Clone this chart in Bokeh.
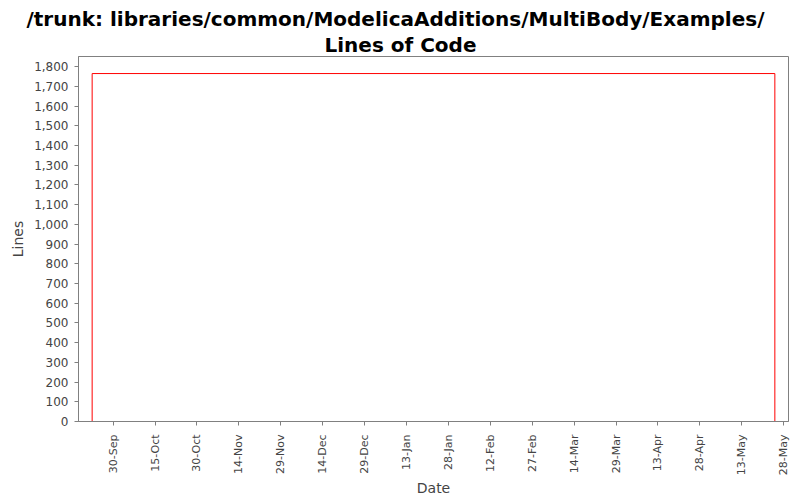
import math
from datetime import datetime
from bokeh.plotting import figure
from bokeh.models import (FixedTicker, DatetimeTickFormatter, NumeralTickFormatter,
                          Range1d, Title, ColumnDataSource)
from bokeh.embed import file_html
from bokeh.resources import INLINE

# ---- data ----
dates = ["2008-09-22 12:00", "2008-09-22 12:00", "2009-05-24 20:00", "2009-05-24 20:00"]
lines_of_code = [0, 1765, 1765, 0]
x_tick_dates = ["2008-09-30", "2008-10-15", "2008-10-30", "2008-11-14", "2008-11-29",
                "2008-12-14", "2008-12-29", "2009-01-13", "2009-01-28", "2009-02-12",
                "2009-02-27", "2009-03-14", "2009-03-29", "2009-04-13", "2009-04-28",
                "2009-05-13", "2009-05-28"]
y_ticks = list(range(0, 1801, 100))
title_line1 = "/trunk: libraries/common/ModelicaAdditions/MultiBody/Examples/"
title_line2 = "Lines of Code"

def parse(s):
    fmt = "%Y-%m-%d %H:%M" if " " in s else "%Y-%m-%d"
    return datetime.strptime(s, fmt)

xs = [parse(d) for d in dates]
ms = [(d - datetime(1970, 1, 1)).total_seconds() * 1000 for d in xs]
tick_ms = [(parse(d) - datetime(1970, 1, 1)).total_seconds() * 1000 for d in x_tick_dates]

span = max(ms) - min(ms)
x_start = min(ms) - 0.02 * span
x_end = max(ms) + 0.02 * span
y_end = max(lines_of_code) * 1.049

src = ColumnDataSource(dict(x=xs, y=lines_of_code))

p = figure(width=800, height=500, output_backend="svg", toolbar_location=None,
           x_axis_type="datetime",
           x_range=Range1d(x_start, x_end), y_range=Range1d(0, y_end),
           min_border_left=78, min_border_right=12, min_border_top=56, min_border_bottom=79)

p.line("x", "y", source=src, line_color="#ff0000", line_width=1)

# titles (p.title is outermost; the added one sits next to the frame)
p.title.text = title_line1
p.title.align = "left"
p.title.offset = -52
p.title.text_font = "DejaVu Sans"
p.title.text_font_size = "20px"
p.title.text_font_style = "bold"
p.title.text_color = "#000000"
p.title.standoff = 0
t2 = Title(text=title_line2, align="left", offset=246, text_font="DejaVu Sans",
           text_font_size="20px", text_font_style="bold", text_color="#000000",
           standoff=0)
p.add_layout(t2, "above")

p.background_fill_color = "white"
p.border_fill_color = "white"
p.outline_line_color = "#808080"
p.outline_line_width = 1
p.xgrid.visible = False
p.ygrid.visible = False

for ax in (p.xaxis[0], p.yaxis[0]):
    ax.axis_line_color = "#808080"
    ax.major_tick_line_color = "#808080"
    ax.minor_tick_line_color = None
    ax.major_tick_in = 0
    ax.major_tick_out = 4
    ax.major_label_text_font = "DejaVu Sans"
    ax.major_label_text_color = "#444444"
    ax.axis_label_text_font = "DejaVu Sans"
    ax.axis_label_text_font_size = "14px"
    ax.axis_label_text_font_style = "normal"
    ax.axis_label_text_color = "#444444"

p.xaxis[0].ticker = FixedTicker(ticks=tick_ms)
p.xaxis[0].formatter = DatetimeTickFormatter(
    milliseconds="%d-%b", seconds="%d-%b", minsec="%d-%b", minutes="%d-%b",
    hourmin="%d-%b", hours="%d-%b", days="%d-%b", months="%d-%b", years="%d-%b")
p.xaxis[0].major_label_orientation = math.pi / 2
p.xaxis[0].major_label_text_font_size = "11px"
p.xaxis[0].major_label_standoff = 9
p.xaxis[0].axis_label = "Date"
p.xaxis[0].axis_label_standoff = 2

p.yaxis[0].ticker = FixedTicker(ticks=y_ticks)
p.yaxis[0].formatter = NumeralTickFormatter(format="0,0")
p.yaxis[0].major_label_text_font_size = "12px"
p.yaxis[0].major_label_standoff = 6
p.yaxis[0].axis_label = "Lines"
p.yaxis[0].axis_label_standoff = 5

open("out.html", "w").write(file_html(p, INLINE))
